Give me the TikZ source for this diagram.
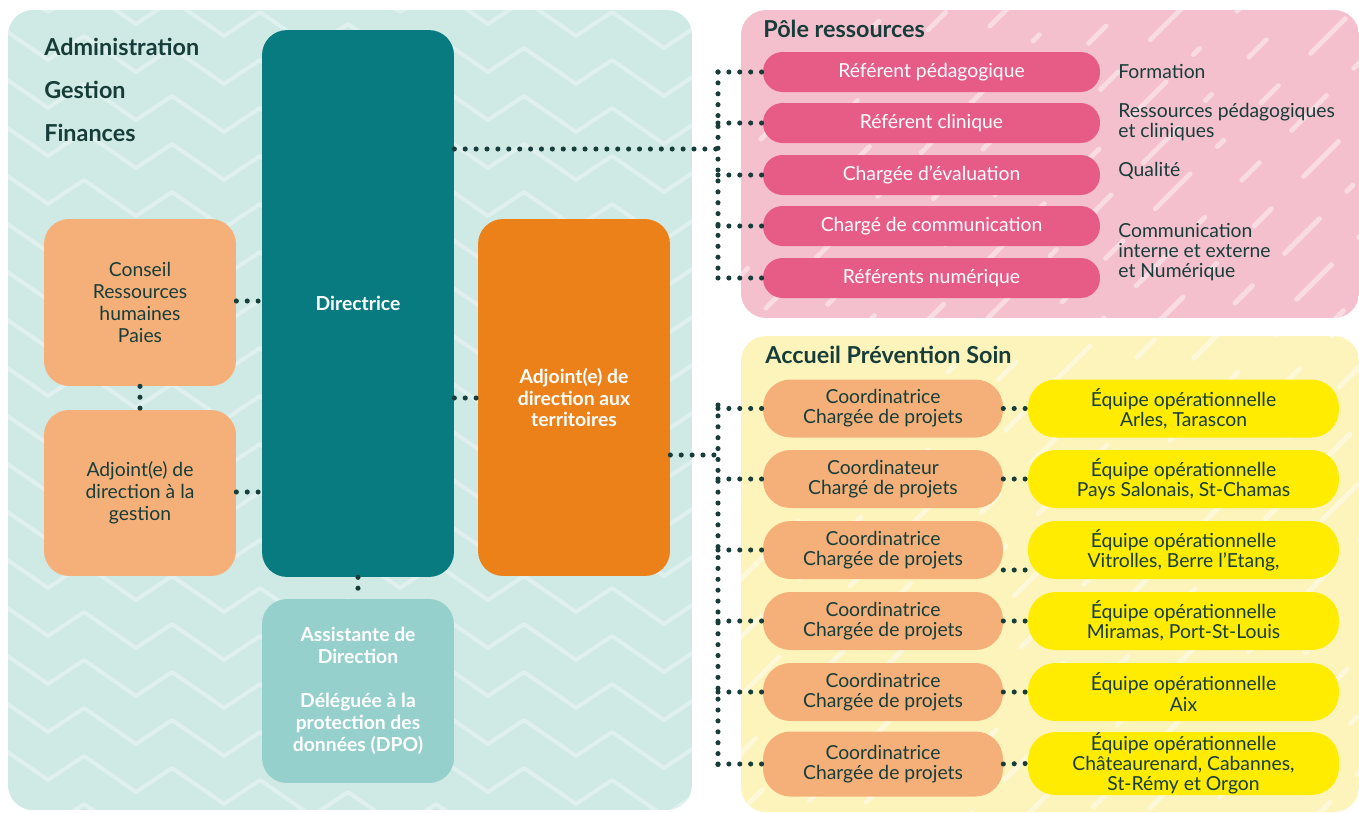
\documentclass[tikz,border=0pt]{standalone}
\usepackage{fontspec}
\setmainfont{Lato}
\usetikzlibrary{calc}
\definecolor{leftbg}{HTML}{CFE9E5}
\definecolor{pinkbg}{HTML}{F5C0CD}
\definecolor{yelbg}{HTML}{FDF4BB}
\definecolor{dircol}{HTML}{077B80}
\definecolor{peach}{HTML}{F5B07A}
\definecolor{orangec}{HTML}{EC8019}
\definecolor{aqua}{HTML}{95D0CD}
\definecolor{rose}{HTML}{E65C87}
\definecolor{yel}{HTML}{FFEC00}
\definecolor{ink}{HTML}{173D3A}

\begin{document}
\begin{tikzpicture}[x=0.02cm,y=-0.02cm,
    dots/.style={draw=ink,line width=2.9pt,line cap=round,dash pattern=on 0pt off 6.2pt},
    zig/.style={draw=white,opacity=0.35,line width=2.3pt,line join=round},
    rain/.style={draw=white,opacity=0.45,line width=2.8pt,line cap=round,
      dash pattern=on 28pt off 22pt on 5pt off 30pt on 14pt off 26pt},
    txt/.style={text=ink,inner sep=0pt,font=\fontsize{11pt}{11.5pt}\selectfont},
    head/.style={text=ink,anchor=west,inner sep=0pt,font=\fontsize{13.3pt}{15pt}\selectfont\bfseries},
    card/.style={rounded corners=0.5cm,minimum width=3.84cm,align=center,inner sep=2pt,
      font=\fontsize{11pt}{12.5pt}\selectfont},
    boldcard/.style={card,text=white,font=\fontsize{11pt}{12.5pt}\selectfont\bfseries},
    pill/.style={rounded corners=0.39cm,fill=rose,text=white,minimum width=6.74cm,
      minimum height=0.8cm,inner sep=0pt,font=\fontsize{11pt}{11.5pt}\selectfont},
    coord/.style={rounded corners=0.55cm,fill=peach,text=ink,minimum width=4.8cm,
      minimum height=1.16cm,align=center,inner sep=0pt,font=\fontsize{11pt}{11.5pt}\selectfont},
    team/.style={coord,fill=yel,minimum width=6.22cm}]
  \useasboundingbox (0,0) rectangle (1359,812);
  % panels
  \begin{scope}
    \clip[rounded corners=0.5cm] (8,10) rectangle (692,810);
    \fill[leftbg] (8,10) rectangle (692,810);
    \foreach \r in {-4,...,18}
      \draw[zig] (-40,\r*48) \foreach \k in {1,...,9}{ -- ++(36,-24) -- ++(52,36)};
  \end{scope}
  \begin{scope}
    \clip[rounded corners=0.5cm] (741,10) rectangle (1359,318);
    \fill[pinkbg] (741,10) rectangle (1359,318);
    \foreach \i in {0,...,17}{
      \pgfmathsetmacro\ph{mod(\i*37,100)}
      \draw[rain,dash phase=\ph pt] (500+\i*58,400) -- ++(520,-520);
    }
  \end{scope}
  \begin{scope}
    \clip[rounded corners=0.5cm] (741,336) rectangle (1359,812);
    \fill[yelbg] (741,336) rectangle (1359,812);
    \foreach \i in {0,...,22}{
      \pgfmathsetmacro\ph{mod(\i*41,100)}
      \draw[rain,dash phase=\ph pt] (420+\i*58,900) -- ++(620,-620);
    }
  \end{scope}

  \node[head] at (44,47) {Administration};
  \node[head] at (44,90) {Gestion};
  \node[head] at (44,133) {Finances};
  \node[head] at (763,29) {Pôle ressources};
  \node[head] at (765,355) {Accueil Prévention Soin};

  \node[boldcard,fill=dircol,minimum height=10.94cm] (dir) at (358,303.5) {Directrice};
  \node[card,fill=peach,minimum height=3.34cm,text=ink] (rh) at (140,302.5) {Conseil\\Ressources\\humaines\\Paies};
  \node[card,fill=peach,minimum height=3.32cm,text=ink] (adg) at (140,493) {Adjoint(e) de\\direction à la\\gestion};
  \node[boldcard,fill=orangec,minimum height=7.14cm] (adt) at (574,397.5) {Adjoint(e) de\\direction aux\\territoires};
  \node[boldcard,fill=aqua,minimum height=3.68cm] (ast) at (358,691) {Assistante de\\Direction\\~\\Déléguée à la\\protection des\\données (DPO)};

  \foreach \n/\y/\t in {1/72/Référent pédagogique, 2/123/Référent clinique, 3/175/Chargée d’évaluation,
      4/226/Chargé de communication, 5/278/Référents numérique}
    \node[pill] (p\n) at (931.5,\y) {\t};

  \node[txt,anchor=west,align=left] (d1) at (1118,71) {Formation};
  \node[txt,anchor=west,align=left] (d2) at (1118,122) {Ressources pédagogiques\\et cliniques};
  \node[txt,anchor=west,align=left] (d3) at (1118,171) {Qualité};
  \node[txt,anchor=west,align=left] (d4) at (1118,252) {Communication\\interne et externe\\et Numérique};

  \foreach \n/\y/\a/\b in {1/408.5/{Coordinatrice\\Chargée de projets}/{Arles, Tarascon},
      2/479/{Coordinateur\\Chargé de projets}/{Pays Salonais, St-Chamas},
      3/550/{Coordinatrice\\Chargée de projets}/{Vitrolles, Berre l\char39 Etang,},
      4/621/{Coordinatrice\\Chargée de projets}/{Miramas, Port-St-Louis},
      5/692/{Coordinatrice\\Chargée de projets}/{Aix}}{
    \node[coord] (c\n) at (883,\y) {\a};
    \node[team] (e\n) at (1183.5,\y) {Équipe opérationnelle\\\b};
  }
  \node[coord,minimum height=1.3cm] (c6) at (883,764) {Coordinatrice\\Chargée de projets};
  \node[team,minimum height=1.26cm] (e6) at (1183.5,763.5) {Équipe opérationnelle\\Châteaurenard, Cabannes,\\St-Rémy et Orgon};

  % connectors
  \coordinate (busA) at (718,149);
  \coordinate (busB) at (718,455);
  \draw[dots] (dir.east |- busA) -- (busA);
  \draw[dots] (p1.west -| busA) -- (p5.west -| busA);
  \foreach \n in {1,...,5}
    \draw[dots] (p\n.west -| busA) -- (p\n.west);
  \draw[dots] (adt.east |- busB) -- (busB);
  \draw[dots] ([yshift=0.07cm]c1.west -| busB) -- ([yshift=-0.06cm]c6.west -| busB);
  \foreach \n in {1,...,6}
    \draw[dots] (c\n.west -| busB) -- (c\n.west);
  \foreach \n in {1,2,4,5,6}
    \draw[dots] (c\n.east) -- (e\n.west);
  \draw[dots] ([yshift=-0.4cm]c3.east) -- ([yshift=-0.4cm]e3.west);
  \draw[dots] (rh.east |- 0,301) -- (dir.west |- 0,301);
  \draw[dots] (adg.east |- 0,492) -- (dir.west |- 0,492);
  \draw[dots] (rh.south) -- (adg.north);
  \draw[dots] (dir.south) -- (ast.north);
  \draw[dots] (dir.east |- 0,398) -- (adt.west |- 0,398);
\end{tikzpicture}
\end{document}
